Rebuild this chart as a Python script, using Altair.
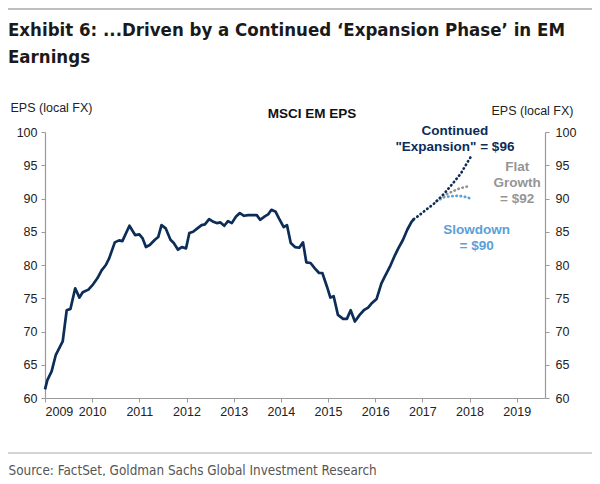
import altair as alt
import pandas as pd

# ---- data ----
hist_year = [2009.00, 2009.05, 2009.14, 2009.23, 2009.375, 2009.46, 2009.54, 2009.64, 2009.73, 2009.80,
             2009.92, 2010.02, 2010.11, 2010.20, 2010.29, 2010.36, 2010.48, 2010.57, 2010.64, 2010.79,
             2010.91, 2011.00, 2011.07, 2011.14, 2011.22, 2011.33, 2011.40, 2011.47, 2011.56, 2011.66,
             2011.73, 2011.82, 2011.90, 2011.99, 2012.06, 2012.14, 2012.23, 2012.32, 2012.39, 2012.48,
             2012.57, 2012.64, 2012.72, 2012.80, 2012.88, 2012.96, 2013.05, 2013.13, 2013.22, 2013.31,
             2013.41, 2013.49, 2013.56, 2013.66, 2013.73, 2013.80, 2013.89, 2013.96, 2014.06, 2014.13,
             2014.21, 2014.30, 2014.39, 2014.47, 2014.54, 2014.63, 2014.72, 2014.81, 2014.88, 2014.98,
             2015.05, 2015.12, 2015.21, 2015.32, 2015.40, 2015.48, 2015.57, 2015.67, 2015.76, 2015.85,
             2015.92, 2016.03, 2016.13, 2016.20, 2016.31, 2016.42, 2016.49, 2016.59, 2016.68, 2016.77,
             2016.82]
hist_eps = [61.3, 62.7, 64.0, 66.5, 68.5, 73.2, 73.4, 76.5, 75.1, 75.9,
            76.3, 77.1, 78.0, 79.2, 80.0, 81.0, 83.4, 83.7, 83.6, 85.9,
            84.5, 84.6, 84.0, 82.7, 83.0, 83.8, 84.2, 86.0, 85.5, 83.8,
            83.3, 82.3, 82.7, 82.5, 84.8, 85.0, 85.5, 86.0, 86.1, 86.9,
            86.5, 86.3, 86.4, 85.9, 86.6, 86.3, 87.3, 87.8, 87.4, 87.5,
            87.5, 87.5, 86.8, 87.3, 87.6, 88.3, 88.0, 87.0, 85.7, 86.0,
            83.3, 82.7, 82.6, 83.4, 80.4, 80.3, 79.5, 78.8, 78.8, 76.7,
            75.1, 75.3, 72.5, 71.9, 71.9, 73.2, 71.5, 72.5, 73.2, 73.6,
            74.2, 74.9, 77.2, 78.2, 79.7, 81.5, 82.5, 83.8, 85.3, 86.5,
            86.9]

exp_year = [2016.82, 2016.90, 2017.06, 2017.26, 2017.47, 2017.65, 2017.82, 2017.96, 2018.03]
exp_eps = [86.9, 87.3, 88.2, 89.3, 90.8, 92.3, 93.8, 95.5, 96.3]

flat_year = [2017.30, 2017.50, 2017.62, 2017.78, 2017.95]
flat_eps = [89.6, 90.6, 91.0, 91.5, 91.8]

slow_year = [2017.30, 2017.46, 2017.60, 2017.75, 2017.88, 2018.00]
slow_eps = [89.6, 90.2, 90.35, 90.4, 90.3, 90.05]

year_ticks = list(range(2009, 2020))
eps_ticks = list(range(60, 101, 5))

title_lines = ["Exhibit 6: ...Driven by a Continued \u2018Expansion Phase\u2019 in EM", "Earnings"]
source_text = "Source: FactSet, Goldman Sachs Global Investment Research"
axis_title = "EPS (local FX)"

exp_labels = ["Continued", "\"Expansion\" = $96"]
exp_label_x = [2017.69, 2017.69]
exp_label_y = [100.15, 97.7]
flat_labels = ["Flat", "Growth", "= $92"]
flat_label_x = [2019.01, 2019.01, 2019.01]
flat_label_y = [94.7, 92.3, 89.9]
slow_labels = ["Slowdown", "= $90"]
slow_label_x = [2018.15, 2018.15]
slow_label_y = [85.3, 82.9]
panel_label = ["MSCI EM EPS"]
panel_label_x = [2014.66]
panel_label_y = [102.66]

NAVY = "#0c2d57"
GREY = "#959595"
LBLUE = "#5a9fd8"
FONT = "Liberation Sans"
NARROW = "DejaVu Sans Condensed"

hist = pd.DataFrame({"year": hist_year, "eps": hist_eps})
exp = pd.DataFrame({"year": exp_year, "eps": exp_eps})
flat = pd.DataFrame({"year": flat_year, "eps": flat_eps})
slow = pd.DataFrame({"year": slow_year, "eps": slow_eps})

x_scale = alt.Scale(domain=[2009, 2019.6], nice=False, zero=False)
y_scale = alt.Scale(domain=[60, 100], nice=False, zero=False)

x_enc = alt.X("year:Q", scale=x_scale,
              axis=alt.Axis(values=year_ticks, format="d", title=source_text,
                            titleFont=NARROW, titleFontSize=13.4, titleFontWeight="normal",
                            titleColor="#555555", titleAnchor="start", titleAlign="left",
                            titleX=-37, titleY=76, titleBaseline="alphabetic",
                            labelPadding=3))
y_enc = alt.Y("eps:Q", scale=y_scale,
              axis=alt.Axis(values=eps_ticks, title=axis_title, titleAngle=0,
                            titleAlign="left", titleBaseline="middle",
                            titleX=-35, titleY=-25, titleFont=FONT, titleFontSize=12.5,
                            titleFontWeight="normal", titleColor="#222222",
                            labelPadding=4))

line_hist = alt.Chart(hist).mark_line(color=NAVY, strokeWidth=2.7, strokeJoin="round").encode(
    x=x_enc, y=y_enc)

dot = dict(strokeWidth=2.7, strokeCap="round", strokeDash=[0.4, 3.8])
line_slow = alt.Chart(slow).mark_line(color=LBLUE, **dot).encode(x=x_enc, y=y_enc)
line_flat = alt.Chart(flat).mark_line(color=GREY, **dot).encode(x=x_enc, y=y_enc)
line_exp = alt.Chart(exp).mark_line(color=NAVY, **dot).encode(x=x_enc, y=y_enc)


def labels(xs, ys, texts, color):
    df = pd.DataFrame({"year": xs, "eps": ys, "label": texts})
    return alt.Chart(df).mark_text(font=FONT, fontSize=13.5, fontWeight="bold", color=color,
                                   align="center", baseline="middle").encode(
        x=x_enc, y=y_enc, text="label:N")


t_exp = labels(exp_label_x, exp_label_y, exp_labels, NAVY)
t_flat = labels(flat_label_x, flat_label_y, flat_labels, GREY)
t_slow = labels(slow_label_x, slow_label_y, slow_labels, LBLUE)
t_panel = labels(panel_label_x, panel_label_y, panel_label, "#111111")

left = alt.layer(line_hist, line_slow, line_flat, line_exp, t_exp, t_flat, t_slow, t_panel)

right = alt.Chart(hist).mark_point(opacity=0).encode(
    x=x_enc,
    y=alt.Y("eps:Q", scale=y_scale,
            axis=alt.Axis(orient="right", values=eps_ticks, title=axis_title, titleAngle=0,
                          titleAlign="left", titleBaseline="middle",
                          titleX=-54, titleY=-22, titleFont=FONT, titleFontSize=12.5,
                          titleFontWeight="normal", titleColor="#222222",
                          labelPadding=6)))

rule_df = pd.DataFrame({"k": [0]})
top_rule = alt.Chart(rule_df).mark_rule(color="#aaaaaa", strokeWidth=1.5).encode(
    x=alt.value(-37), x2=alt.value(547), y=alt.value(-123))
bottom_rule = alt.Chart(rule_df).mark_rule(color="#aaaaaa", strokeWidth=1.2).encode(
    x=alt.value(-37), x2=alt.value(547), y=alt.value(321))

chart = alt.layer(left, right, top_rule, bottom_rule).resolve_axis(y="independent").properties(
    width=500, height=266,
    autosize=alt.AutoSizeParams(type="none"),
    padding={"left": 37, "top": 124, "right": 47, "bottom": 78},
    title=alt.TitleParams(text=title_lines, anchor="start", frame="group", dx=-37, dy=58,
                          font=NARROW, fontSize=18.5, fontWeight="bold", color="#1a1a1a",
                          lineHeight=27, offset=0),
).configure_view(stroke=None).configure_axis(
    grid=False, labelFont=FONT, labelFontSize=12.5, labelColor="#222222",
    domainColor="#9a9a9a", tickColor="#9a9a9a", tickSize=4, domainWidth=1.2
)

chart.save("out.html", embed_options={"renderer": "svg", "actions": False})
